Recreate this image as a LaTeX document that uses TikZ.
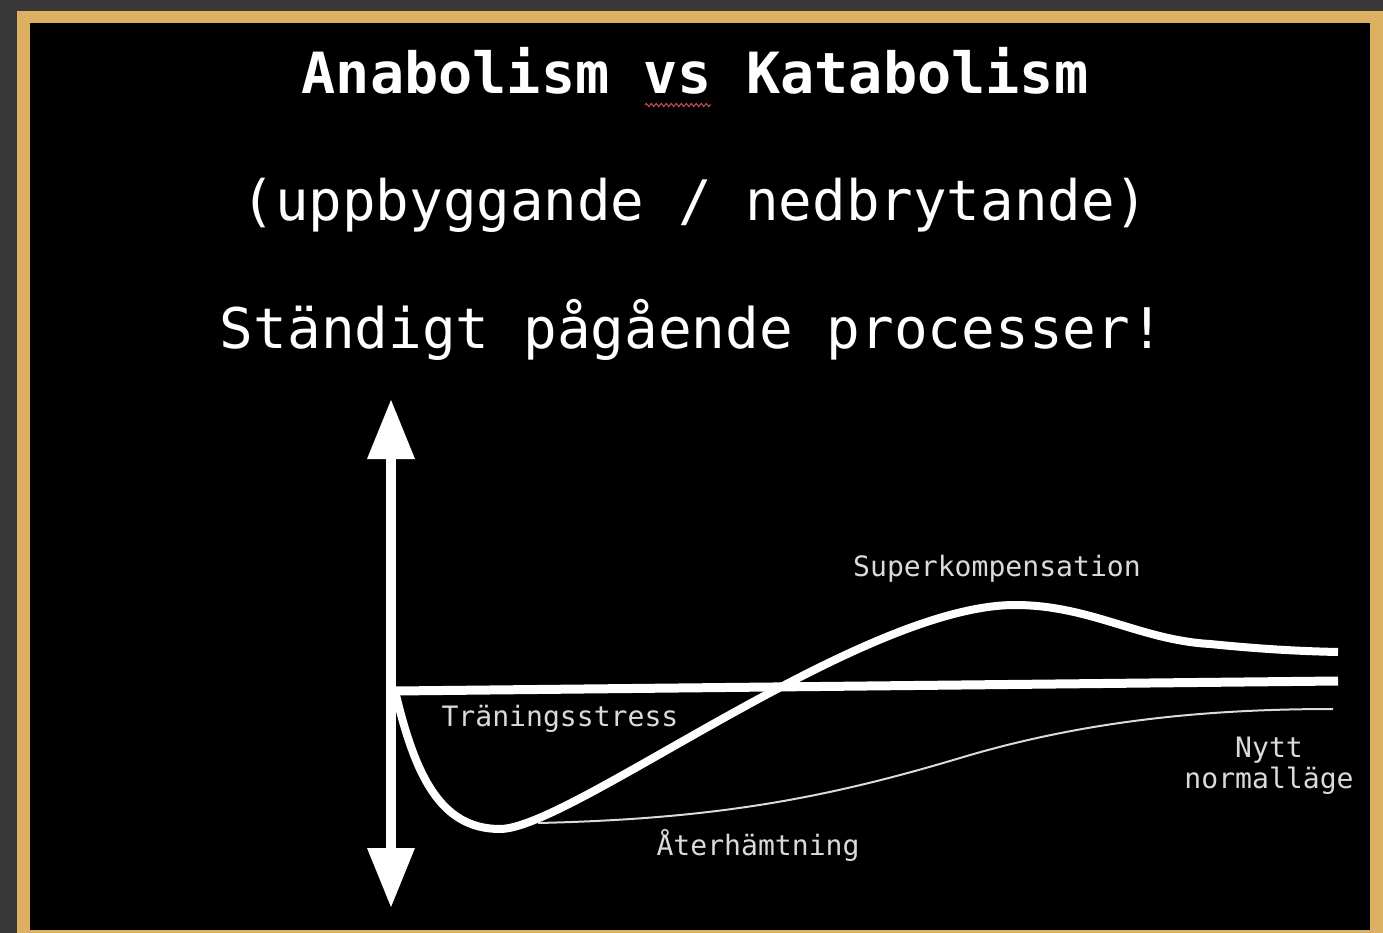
\documentclass[tikz,border=0pt]{standalone}
\usepackage{fontspec}
\usetikzlibrary{arrows.meta,decorations.pathmorphing}
\newfontfamily\mono{DejaVu Sans Mono}
\definecolor{slate}{HTML}{383838}
\definecolor{gold}{HTML}{DEB062}
\definecolor{chalk}{HTML}{FFFFFF}
\definecolor{dim}{HTML}{DADADA}
\definecolor{typo}{HTML}{C0504D}

\begin{document}
\begin{tikzpicture}[x=1pt,y=-1pt,>={Triangle[width=45pt,length=60pt]},
  big/.style={anchor=base,inner sep=0pt,text=chalk,font=\mono\fontsize{56}{60}\selectfont},
  lbl/.style={anchor=base,inner sep=0pt,text=dim,font=\mono\fontsize{28.1}{31}\selectfont}]
% board and frame
\fill[slate] (0,0) rectangle (1383,933);
\fill[gold] (17,11) rectangle (1383,933);
\fill[black] (30,23) rectangle (1370,930);
\useasboundingbox (0,0) rectangle (1383,933);
% headings
\node[big,font=\mono\bfseries\fontsize{56.8}{60}\selectfont] (title) at (695,94) {Anabolism vs Katabolism};
\draw[typo,line width=1pt,decorate,decoration={zigzag,segment length=5pt,amplitude=1.6pt}] (645,105) -- (711,105);
\node[big,font=\mono\fontsize{55.8}{60}\selectfont] (sub) at (695,221) {(uppbyggande / nedbrytande)};
\node[big] (claim) at (692,348) {Ständigt pågående processer!};
% axis
\coordinate (top) at (391,399);
\coordinate (bottom) at (391,908);
\draw[chalk,line width=10pt,<->] (bottom) -- (top);
% curves
\coordinate (origin) at (395,691);
\coordinate (level) at (1338,681);
\coordinate (dip) at (500,829);
\coordinate (peak) at (1015,605);
\coordinate (settle) at (1210,644);
\coordinate (gain) at (1338,652);
\coordinate (rest) at (538,823);
\coordinate (mid) at (960,758);
\coordinate (new) at (1333,709);
\draw[chalk,line width=9pt] (origin) -- (level);
\draw[chalk,line width=8pt] (origin) .. controls (415,775) and (440,829) .. (dip)
  .. controls (570,829) and (860,605) .. (peak)
  .. controls (1090,605) and (1140,640) .. (settle)
  .. controls (1250,648) and (1290,651) .. (gain);
\draw[dim,line width=2pt] (rest) .. controls (710,819) and (820,800) .. (mid)
  .. controls (1080,722) and (1200,709) .. (new);
% labels
\node[lbl] (super) at (997,576) {Superkompensation};
\node[lbl] (stress) at (560,726) {Träningsstress};
\node[lbl] (recover) at (758,855) {Återhämtning};
\node[lbl] (nytt) at (1269,757) {Nytt};
\node[lbl] (normal) at (1269,788) {normalläge};
\end{tikzpicture}
\end{document}
